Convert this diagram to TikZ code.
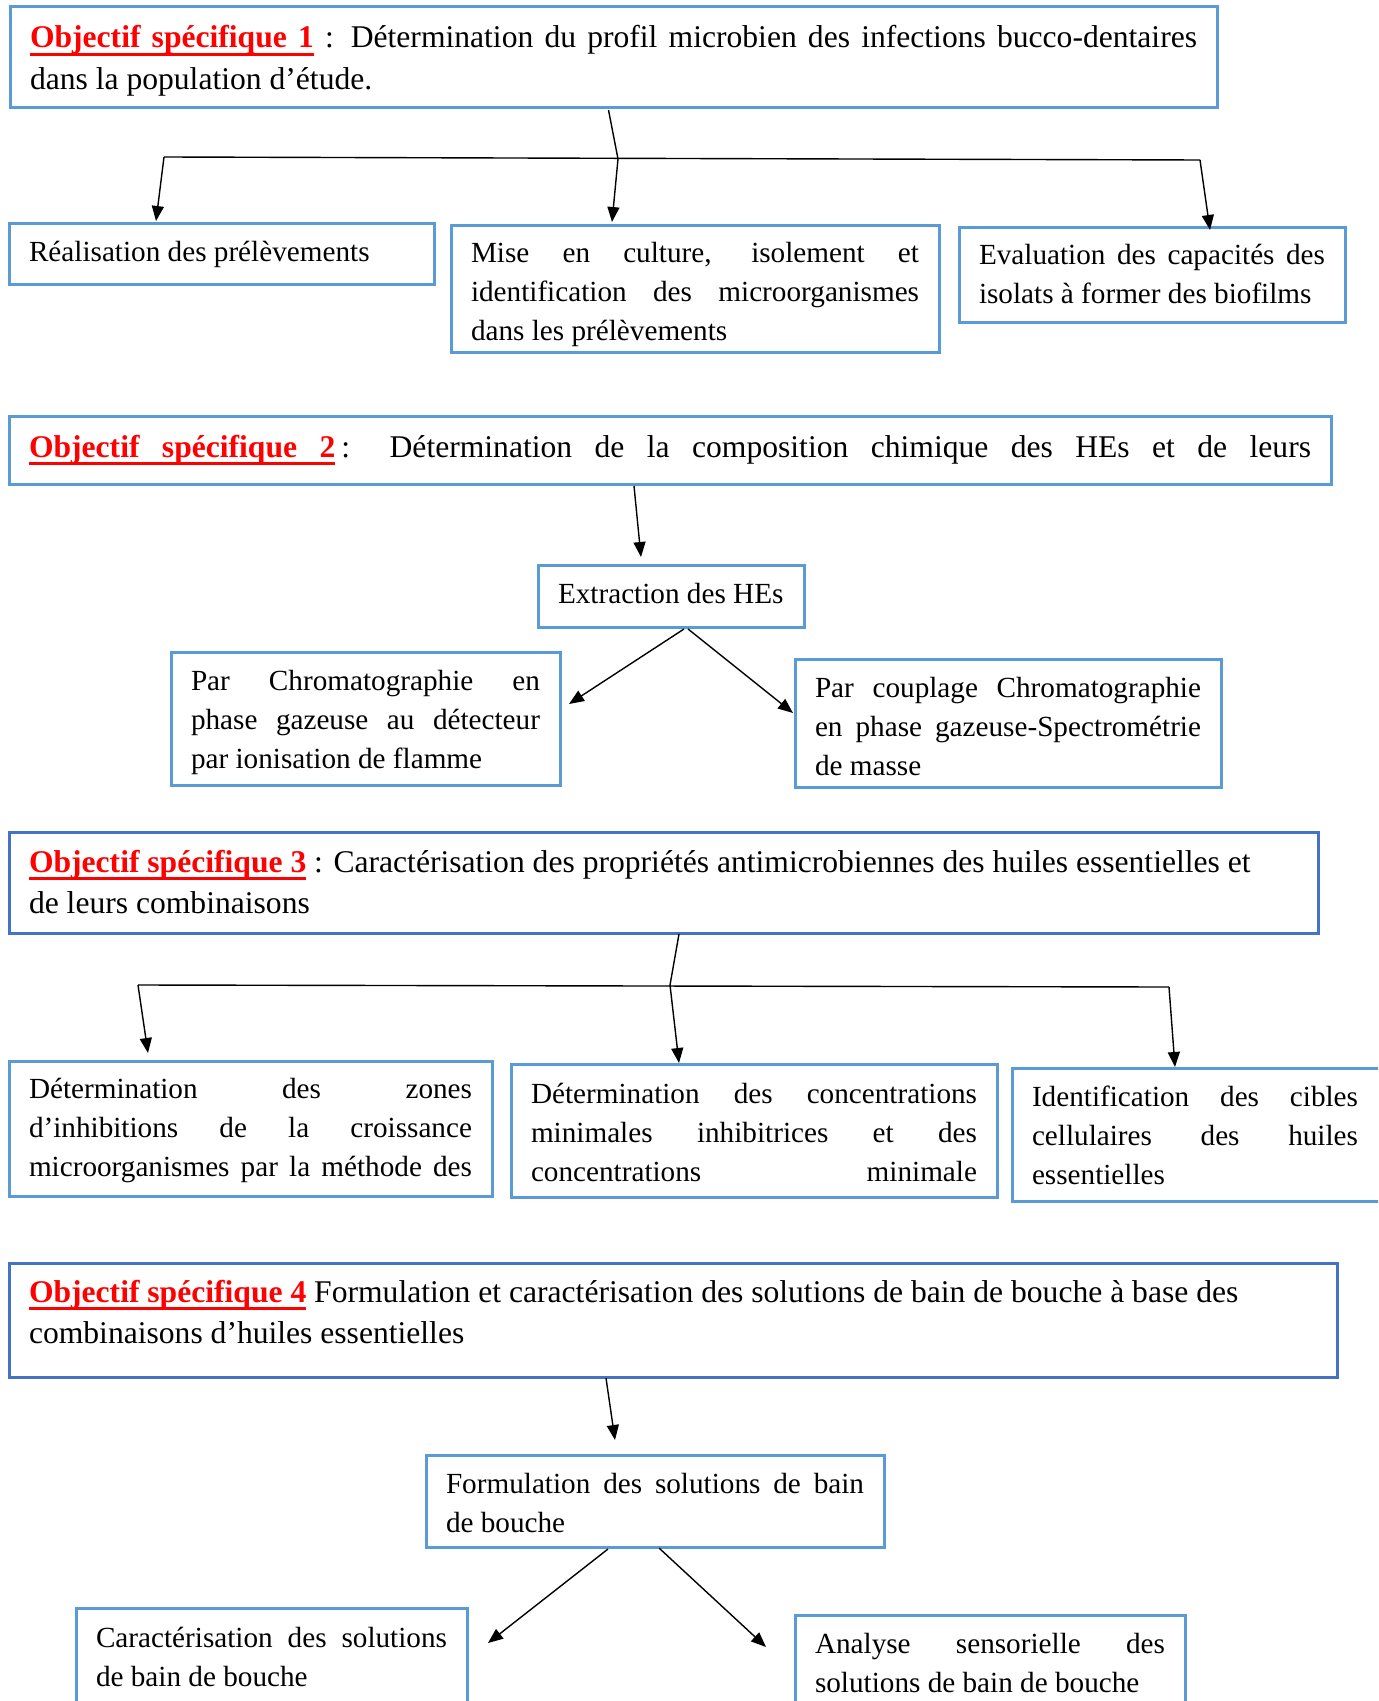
\documentclass[tikz,border=0pt]{standalone}
\usepackage{fontspec}
\setmainfont{Liberation Serif}
\usepackage{xcolor}
\usetikzlibrary{arrows.meta}
\definecolor{boxblue}{HTML}{5B9BD5}
\definecolor{boxdark}{HTML}{4472C4}
\definecolor{objred}{HTML}{FF0000}
\newcommand{\ulword}[1]{\setbox0=\hbox{#1}\rlap{\rule[-3.9pt]{\wd0}{1.3pt}}\box0}
\newcommand{\ulsp}{\leaders\hrule height -2.6pt depth 3.9pt\hskip\fontdimen2\font plus\fontdimen3\font minus\fontdimen4\font\relax}
\newcommand{\Objectif}[1]{{\color{objred}\bfseries\ulword{Objectif}\ulsp\ulword{spécifique}\ulsp\ulword{#1}}}
\newcommand{\fullline}[2][\linewidth]{\hbox to #1{#2}}
\tolerance=10000
\hbadness=10000
\begin{document}
\begin{tikzpicture}[x=0.5pt,y=-0.5pt,
  box/.style={draw=boxblue,line width=1.5pt,anchor=north west,align=justify,
    inner xsep=10pt,inner ysep=0pt,outer sep=0pt,font=\fontsize{14.6pt}{19.5pt}\selectfont},
  objbox/.style={box,font=\fontsize{15.8pt}{20.75pt}\selectfont},
  objdark/.style={objbox,draw=boxdark},
  link/.style={line width=0.7pt},
  arrow/.style={link,-{Triangle[length=7.5pt,width=6pt]}}
]
\clip (0,0) rectangle (1378,1701);
\fill[white] (0,0) rectangle (1378,1701);

% objectif 1
\node[objbox,text width=583.5pt,text height=20.5pt,text depth=30pt] (obj1) at (10,7)
  {\Objectif{1} : Détermination du profil microbien des infections bucco-dentaires\linebreak dans la population d’étude.};
\node[box,text width=192.5pt,text height=19pt,text depth=11.5pt] (r1) at (9,224)
  {Réalisation des prélèvements};
\node[box,text width=224pt,text height=18.5pt,text depth=45pt] (r2) at (451,226)
  {Mise en culture, isolement et\linebreak identification des microorganismes\linebreak dans les prélèvements};
\node[box,text width=173pt,text height=18.5pt,text depth=29pt] (r3) at (959,228)
  {Evaluation des capacités des\linebreak isolats à former des biofilms};

\coordinate (j1l) at (164,157);
\coordinate (j1m) at (618,159);
\coordinate (j1r) at (1200,160);
\draw[link] ([shift={(-5,2)}]obj1.south) -- (j1m);
\draw[link] (j1l) -- (j1r);
\draw[arrow] (j1l) -- ([shift={(147,-3)}]r1.north west);
\draw[arrow] (j1m) -- ([shift={(161,-4)}]r2.north west);
\draw[arrow] (j1r) -- ([shift={(251,2)}]r3.north west);

% objectif 2
\node[objbox,text width=641pt,text height=20.5pt,text depth=13.5pt] (obj2) at (9,416)
  {\fullline{\Objectif{2}\hspace{3pt}: Détermination de la composition chimique des HEs et de leurs}};
\node[box,text width=113pt,text height=19pt,text depth=12pt] (ext) at (538,565)
  {\mbox{Extraction des HEs}};
\node[box,text width=174.5pt,text height=19pt,text depth=47.5pt] (gc) at (171,652)
  {Par Chromatographie en\linebreak phase gazeuse au détecteur\linebreak par ionisation de flamme};
\node[box,text width=193pt,text height=19pt,text depth=45pt] (gcms) at (795,659)
  {Par couplage Chromatographie\linebreak\fullline{en phase gazeuse-Spectrométrie}\linebreak de masse};

\draw[arrow] ([shift={(-36,2)}]obj2.south) -- ([shift={(103,-8)}]ext.north west);
\draw[arrow] ([shift={(13,2)}]ext.south) -- ([shift={(9,52)}]gc.north east);
\draw[arrow] ([shift={(17,2)}]ext.south) -- ([shift={(-2,54)}]gcms.north west);

% objectif 3
\node[objdark,text width=634.5pt,text height=20pt,text depth=30.5pt] (obj3) at (9,832)
  {\Objectif{3} : Caractérisation des propriétés antimicrobiennes des huiles essentielles et\\ de leurs combinaisons};
\node[box,text width=221.5pt,text height=18.5pt,text depth=49pt] (zones) at (9,1061)
  {Détermination des zones\linebreak d’inhibitions de la croissance\linebreak\fullline{microorganismes par la méthode des}};
\node[box,text width=223pt,text height=19.5pt,text depth=47pt] (cmi) at (511,1064)
  {Détermination des concentrations\linebreak minimales inhibitrices et des\linebreak\fullline{concentrations minimale}};
\node[box,text width=173pt,text height=19pt,text depth=47.5pt] (cibles) at (1012,1068)
  {\fullline[163pt]{Identification des cibles}\linebreak\fullline[163pt]{cellulaires des huiles}\linebreak essentielles};

\coordinate (j3l) at (138,985);
\coordinate (j3m) at (670,985);
\coordinate (j3r) at (1169,987);
\draw[link] ([shift={(15.5,1)}]obj3.south) -- (j3m);
\draw[link] (j3l) -- (j3r);
\draw[arrow] (j3l) -- ([shift={(139,-8)}]zones.north west);
\draw[arrow] (j3m) -- ([shift={(168,-1)}]cmi.north west);
\draw[arrow] (j3r) -- ([shift={(163,-1)}]cibles.north west);

% objectif 4
\node[objdark,text width=644pt,text height=19.5pt,text depth=37.5pt] (obj4) at (9,1263)
  {\Objectif{4} Formulation et caractérisation des solutions de bain de bouche à base des\\ combinaisons d’huiles essentielles};
\node[box,text width=209pt,text height=19pt,text depth=27pt] (form) at (426,1455)
  {Formulation des solutions de bain\linebreak de bouche};
\node[box,text width=175.5pt,text height=19.5pt,text depth=60pt] (carac) at (76,1608)
  {Caractérisation des solutions\linebreak de bain de bouche};
\node[box,text width=175pt,text height=19pt,text depth=60pt] (sens) at (795,1615)
  {Analyse sensorielle des\linebreak solutions de bain de bouche};

\draw[arrow] ([shift={(-67,1)}]obj4.south) -- ([shift={(189,-15)}]form.north west);
\draw[arrow] ([shift={(-47,2)}]form.south) -- ([shift={(21,35)}]carac.north east);
\draw[arrow] ([shift={(4,1)}]form.south) -- ([shift={(-29,32)}]sens.north west);
\end{tikzpicture}
\end{document}
